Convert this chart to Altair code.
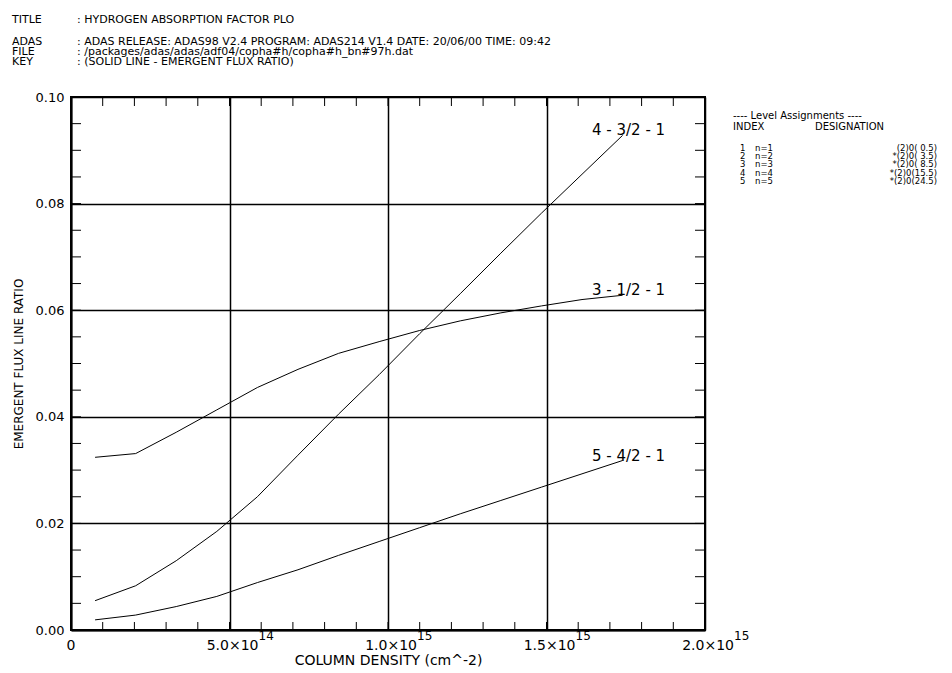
import altair as alt
import pandas as pd

# ---------------- data ----------------
column_density = [7.6e13, 2.04e14, 3.32e14, 4.60e14, 5.88e14, 7.16e14, 8.44e14,
                  9.72e14, 1.100e15, 1.228e15, 1.356e15, 1.484e15, 1.612e15, 1.740e15]
ratio_3_1 = [0.0324, 0.0331, 0.0371, 0.0413, 0.0455, 0.0489, 0.0519,
             0.0541, 0.0562, 0.0580, 0.0595, 0.0608, 0.0620, 0.0628]
ratio_4_3 = [0.0055, 0.0083, 0.0130, 0.0185, 0.0250, 0.0328, 0.0405,
             0.0479, 0.0556, 0.0631, 0.0707, 0.0782, 0.0855, 0.0928]
ratio_5_4 = [0.0019, 0.0028, 0.0044, 0.0063, 0.0089, 0.0113, 0.0140,
             0.0166, 0.0192, 0.0218, 0.0243, 0.0268, 0.0293, 0.0318]
series_names = ["3 - 1/2 - 1", "4 - 3/2 - 1", "5 - 4/2 - 1"]

x_major = [0, 5e14, 1e15, 1.5e15, 2e15]
x_mantissa = ["0", "5.0\u00d710", "1.0\u00d710", "1.5\u00d710", "2.0\u00d710"]
x_exponent = ["", "14", "15", "15", "15"]
x_minor = [i * 1e14 for i in range(1, 20)]
y_major = [0.0, 0.02, 0.04, 0.06, 0.08, 0.10]
y_minor = [i * 0.005 for i in range(1, 20)]

header_keys = ["TITLE", "ADAS", "FILE", "KEY"]
header_values = [": HYDROGEN ABSORPTION FACTOR PLO",
                 ": ADAS RELEASE: ADAS98 V2.4 PROGRAM: ADAS214 V1.4 DATE: 20/06/00 TIME: 09:42",
                 ": /packages/adas/adas/adf04/copha#h/copha#h_bn#97h.dat",
                 ": (SOLID LINE - EMERGENT FLUX RATIO)"]

legend_title = "---- Level Assignments ----"
legend_head = ["INDEX", "DESIGNATION"]
level_index = ["1", "2", "3", "4", "5"]
level_config = ["n=1", "n=2", "n=3", "n=4", "n=5"]
level_designation = ["(2)0( 0.5)", "*(2)0( 3.5)", "*(2)0( 8.5)", "*(2)0(15.5)", "*(2)0(24.5)"]

# ---------------- layout ----------------
W, H = 634, 533
FONT = "DejaVu Sans"

rows = []
for name, vals in zip(series_names, [ratio_3_1, ratio_4_3, ratio_5_4]):
    for xv, yv in zip(column_density, vals):
        rows.append({"x": xv, "y": yv, "series": name})
df = pd.DataFrame(rows)

xscale = alt.Scale(domain=[0, 2e15], nice=False, zero=False)
yscale = alt.Scale(domain=[0, 0.1], nice=False, zero=False)

lines = alt.Chart(df).mark_line(color="black", strokeWidth=1).encode(
    x=alt.X("x:Q", scale=xscale,
            axis=alt.Axis(values=x_major, grid=True, gridColor="black", gridWidth=1.5,
                          gridOpacity=1, ticks=False, labels=False, domain=True,
                          domainColor="black", domainWidth=2,
                          title="COLUMN DENSITY (cm^-2)", titleFont=FONT, titleFontSize=14,
                          titleFontWeight="normal", titleColor="black", titlePadding=23)),
    y=alt.Y("y:Q", scale=yscale,
            axis=alt.Axis(values=y_major, format=".2f", grid=True, gridColor="black",
                          gridWidth=1.5, gridOpacity=1, ticks=False, domain=True,
                          domainColor="black", domainWidth=2, labelFont=FONT,
                          labelFontSize=13, labelColor="black", labelPadding=7,
                          title="EMERGENT FLUX LINE RATIO", titleFont=FONT, titleFontSize=12,
                          titleFontWeight="normal", titleColor="black", titlePadding=10)),
    detail="series:N",
)

# minor ticks (inward)
xm = pd.DataFrame({"v": x_minor})
ym = pd.DataFrame({"v": y_minor})
tick_bottom = alt.Chart(xm).mark_rule(color="black", strokeWidth=1).encode(
    x=alt.X("v:Q", scale=xscale), y=alt.value(H), y2=alt.value(H - 8))
tick_top = alt.Chart(xm).mark_rule(color="black", strokeWidth=1).encode(
    x=alt.X("v:Q", scale=xscale), y=alt.value(0), y2=alt.value(9))
tick_left = alt.Chart(ym).mark_rule(color="black", strokeWidth=1).encode(
    y=alt.Y("v:Q", scale=yscale), x=alt.value(0), x2=alt.value(10))
tick_right = alt.Chart(ym).mark_rule(color="black", strokeWidth=1).encode(
    y=alt.Y("v:Q", scale=yscale), x=alt.value(W - 10), x2=alt.value(W))

# x tick labels with superscript exponents
xl = pd.DataFrame({"v": x_major, "m": x_mantissa, "e": x_exponent})
xl_zero = alt.Chart(xl).transform_filter("datum.v == 0").mark_text(
    font=FONT, fontSize=14, color="black", align="center", baseline="alphabetic").encode(
    x=alt.X("v:Q", scale=xscale), y=alt.value(H + 20), text="m:N")
xl_mant = alt.Chart(xl).transform_filter("datum.v > 0").mark_text(
    font=FONT, fontSize=14, color="black", align="right", baseline="alphabetic", dx=29).encode(
    x=alt.X("v:Q", scale=xscale), y=alt.value(H + 20), text="m:N")
xl_exp = alt.Chart(xl).transform_filter("datum.v > 0").mark_text(
    font=FONT, fontSize=12, color="black", align="left", baseline="alphabetic", dx=29).encode(
    x=alt.X("v:Q", scale=xscale), y=alt.value(H + 10), text="e:N")

# curve labels at curve ends
ends = pd.DataFrame({"x": [column_density[-1]] * 3,
                     "y": [ratio_3_1[-1], ratio_4_3[-1], ratio_5_4[-1]],
                     "t": series_names})
curve_labels = alt.Chart(ends).mark_text(
    font=FONT, fontSize=15, color="black", align="center", baseline="alphabetic", dx=6).encode(
    x=alt.X("x:Q", scale=xscale), y=alt.Y("y:Q", scale=yscale), text="t:N")

one = pd.DataFrame({"a": [0]})


def txt(s, x, y, size, align="left"):
    return alt.Chart(one).mark_text(font=FONT, fontSize=size, color="black", align=align,
                                    baseline="alphabetic").encode(
        x=alt.value(x), y=alt.value(y), text=alt.value(s))


texts = []
header_base = [-74, -52.5, -42.5, -32.5]
for k, v, yy in zip(header_keys, header_values, header_base):
    texts.append(txt(k, -59, yy, 11))
    texts.append(txt(v, 6, yy, 11))

texts.append(txt(legend_title, 662, 21.5, 10))
texts.append(txt(legend_head[0], 662, 32.5, 10))
texts.append(txt(legend_head[1], 744, 32.5, 10))
for i, (a, b, c) in enumerate(zip(level_index, level_config, level_designation)):
    yy = 53.5 + 8.4 * i
    texts.append(txt(a, 669, yy, 8.5))
    texts.append(txt(b, 684, yy, 8.5))
    texts.append(txt(c, 866, yy, 8.5, align="right"))

chart = alt.layer(lines, tick_bottom, tick_top, tick_left, tick_right,
                  xl_zero, xl_mant, xl_exp, curve_labels, *texts).properties(
    width=W, height=H,
    autosize=alt.AutoSizeParams(type="none"),
    padding={"left": 71, "top": 97, "right": 247, "bottom": 43},
    background="white",
).configure_view(stroke="black", strokeWidth=2).configure_axis(
    labelFont=FONT, titleFont=FONT)

chart.save("out.html", embed_options={"renderer": "svg", "actions": False})
